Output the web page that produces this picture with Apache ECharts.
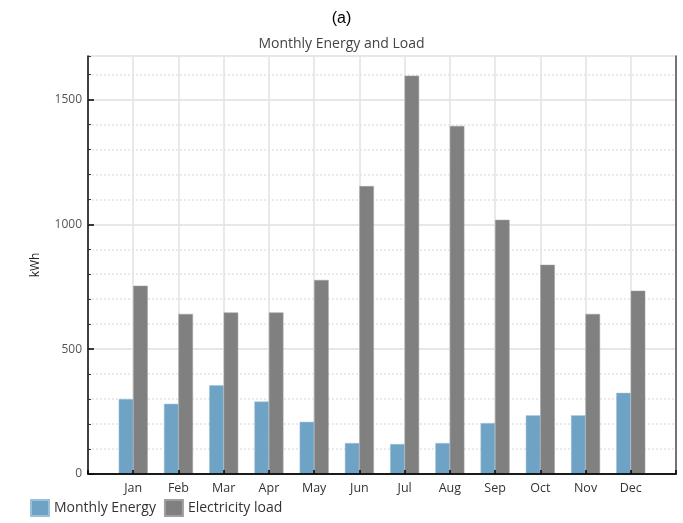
<!DOCTYPE html>
<html>
<head>
<meta charset="utf-8">
<script src="https://cdn.jsdelivr.net/npm/echarts@6/dist/echarts.min.js"></script>
<style>
html,body{margin:0;padding:0;background:#fff;}
#chart{width:683px;height:523px;}
</style>
</head>
<body>
<div id="chart"></div>
<script>
const months = ['Jan','Feb','Mar','Apr','May','Jun','Jul','Aug','Sep','Oct','Nov','Dec'];
const monthlyEnergy = [300, 281, 355, 290, 209, 124, 120, 124, 204, 235, 235, 325];
const electricityLoad = [754, 641, 647, 647, 777, 1153, 1595, 1394, 1018, 838, 641, 734];
const yTicks = [0, 500, 1000, 1500];
const yMax = 1674;

const axisCats = [''].concat(months, ['']);
const pad = arr => [null].concat(arr, [null]);

const chart = echarts.init(document.getElementById('chart'));
const font = '"Open Sans", "Noto Sans", sans-serif';
const nCat = axisCats.length;
chart.setOption({
  animation: false,
  backgroundColor: '#fff',
  title: [
    {text: '(a)', left: 'center', top: 6, textStyle: {fontFamily: '"Liberation Sans", Arial, sans-serif', fontSize: 16, fontWeight: 'normal', color: '#000'}},
    {text: 'Monthly Energy and Load', left: 'center', top: 32, textStyle: {fontFamily: font, fontSize: 14, fontWeight: 'normal', color: '#444'}}
  ],
  grid: {left: 88, right: 7, top: 56, bottom: 49, show: false},
  legend: {
    left: 25, bottom: 1, itemWidth: 18, itemHeight: 16, itemGap: 8, icon: 'rect',
    textStyle: {fontFamily: font, fontSize: 14, color: '#333'},
    data: ['Monthly Energy', 'Electricity load']
  },
  xAxis: [
    {
      type: 'category', data: axisCats, boundaryGap: false, position: 'bottom',
      axisLine: {show: false},
      axisTick: {show: false},
      axisLabel: {fontFamily: font, fontSize: 12.5, color: '#333', margin: 8, interval: 0},
      splitLine: {show: true, interval: (i) => i > 0 && i < nCat - 1, lineStyle: {color: '#e2e2e2', width: 1.5}}
    },
    {
      type: 'category', data: axisCats, boundaryGap: false, position: 'top',
      axisLine: {show: true, lineStyle: {color: '#444', width: 1.5}},
      axisTick: {show: false}, axisLabel: {show: false}, splitLine: {show: false}, z: 5
    },
    {
      type: 'category', data: axisCats, boundaryGap: false, position: 'bottom',
      axisLine: {show: true, lineStyle: {color: '#000', width: 1.5}},
      axisTick: {show: true, inside: true, length: 4, interval: 0, lineStyle: {color: '#000', width: 1.5}},
      axisLabel: {show: false}, splitLine: {show: false}, z: 5
    }
  ],
  yAxis: [
    {
      type: 'value', min: 0, max: yMax, interval: 500, position: 'left',
      name: 'kWh', nameLocation: 'middle', nameGap: 46, nameRotate: 90,
      nameTextStyle: {fontFamily: font, fontSize: 12, color: '#222'},
      axisLine: {show: true, lineStyle: {color: '#000', width: 1.5}},
      axisTick: {show: true, inside: true, length: 6, lineStyle: {color: '#000', width: 1.5}},
      axisLabel: {fontFamily: font, fontSize: 12, color: '#555', margin: 6, showMaxLabel: false,
        formatter: v => yTicks.indexOf(v) >= 0 ? String(v) : ''},
      splitLine: {show: true, lineStyle: {color: '#e2e2e2', width: 1.5}}
    },
    {
      type: 'value', min: 0, max: yMax, interval: 100, position: 'left',
      axisLine: {show: false},
      axisTick: {show: true, inside: true, length: 3, lineStyle: {color: '#333', width: 1}},
      axisLabel: {show: false},
      splitLine: {show: true, lineStyle: {color: '#e4e4e4', width: 1.5, type: [2, 2]}}
    },
    {
      type: 'value', min: 0, max: yMax, position: 'right',
      axisLine: {show: true, lineStyle: {color: '#444', width: 1.5}},
      axisTick: {show: false}, axisLabel: {show: false}, splitLine: {show: false}, z: 5
    }
  ],
  series: [
    {name: 'Monthly Energy', type: 'bar', xAxisIndex: 0, yAxisIndex: 0, data: pad(monthlyEnergy), barWidth: 14.5, barGap: '0%',
      itemStyle: {color: '#6fa3c6', borderColor: '#9cc0da', borderWidth: 0.5}, z: 3},
    {name: 'Electricity load', type: 'bar', xAxisIndex: 0, yAxisIndex: 0, data: pad(electricityLoad), barWidth: 14.5, barGap: '0%',
      itemStyle: {color: '#808080', borderColor: '#a0a0a0', borderWidth: 0.5}, z: 3}
  ]
});
</script>
</body>
</html>
